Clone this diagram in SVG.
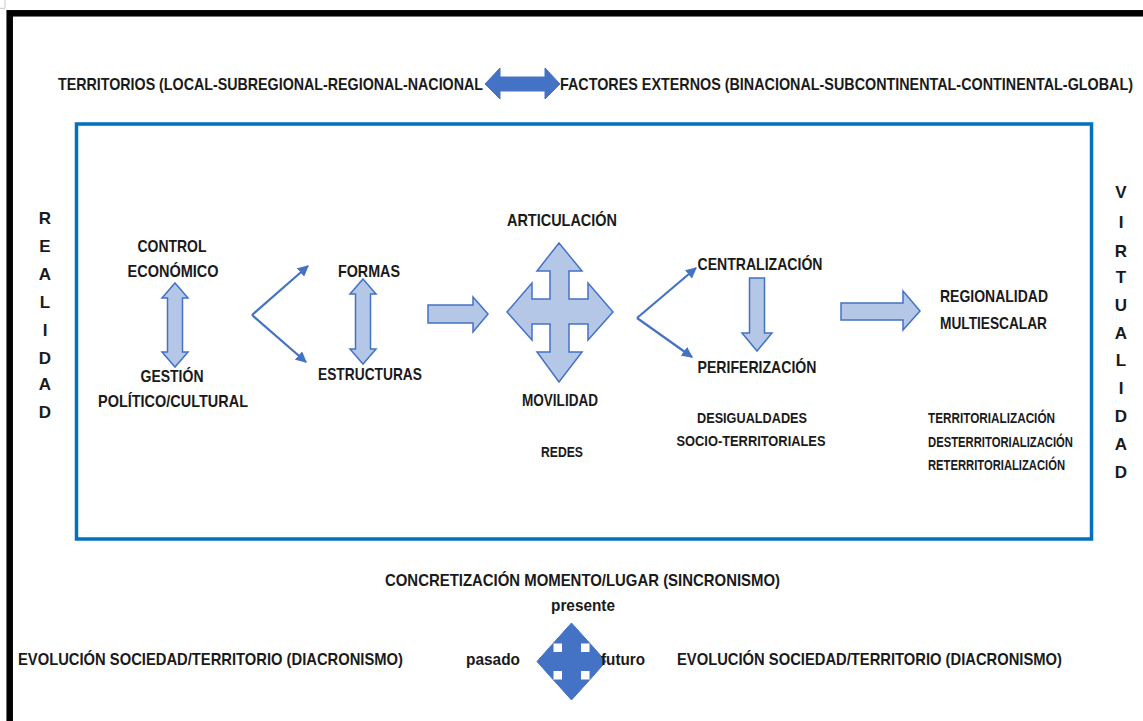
<svg xmlns="http://www.w3.org/2000/svg" width="1143" height="721" viewBox="0 0 1143 721">
<defs>
<style>
text{font-family:"Liberation Sans",Arial,sans-serif;font-weight:bold;fill:#1a1a1a;font-size:17px}
.s{font-size:15px}
.c{text-anchor:middle}
.blk{fill:#b4c7e7;stroke:#4472c4;stroke-width:1.5;stroke-linejoin:miter}
.dark{fill:#4472c4;stroke:#4472c4;stroke-width:1}
.con{fill:none;stroke:#4472c4;stroke-width:2.2}
</style>
<marker id="ah" viewBox="0 0 10 10" refX="9" refY="5" markerWidth="5" markerHeight="5" orient="auto" markerUnits="strokeWidth">
<path d="M0,0 L10,5 L0,10 z" fill="#4472c4"/>
</marker>
</defs>
<rect width="1143" height="721" fill="#ffffff"/>
<path d="M0 8.3 H5 V0" fill="none" stroke="#c8c8c8" stroke-width="1"/>
<rect id="frame" x="9.7" y="13.3" width="1200" height="800" fill="none" stroke="#000" stroke-width="6.5"/>
<rect id="box" x="76.5" y="124" width="1015" height="415" fill="none" stroke="#0070c0" stroke-width="3.5"/>

<g id="top">
<text x="58" y="90" textLength="425" lengthAdjust="spacingAndGlyphs">TERRITORIOS (LOCAL-SUBREGIONAL-REGIONAL-NACIONAL</text>
<path class="dark" d="M485,84 L500,68 L500,77 L545,77 L545,68 L560,84 L545,99 L545,91 L500,91 L500,99 Z"/>
<text x="560" y="90" textLength="573" lengthAdjust="spacingAndGlyphs">FACTORES EXTERNOS (BINACIONAL-SUBCONTINENTAL-CONTINENTAL-GLOBAL)</text>
</g>

<g id="realidad">
<text class="c" x="45" y="224">R</text>
<text class="c" x="45" y="252">E</text>
<text class="c" x="45" y="280">A</text>
<text class="c" x="45" y="308">L</text>
<text class="c" x="45" y="336">I</text>
<text class="c" x="45" y="364">D</text>
<text class="c" x="45" y="390">A</text>
<text class="c" x="45" y="418">D</text>
</g>

<g id="virtualidad">
<text class="c" x="1121" y="198">V</text>
<text class="c" x="1121" y="228">I</text>
<text class="c" x="1121" y="257">R</text>
<text class="c" x="1121" y="283">T</text>
<text class="c" x="1121" y="311">U</text>
<text class="c" x="1121" y="339">A</text>
<text class="c" x="1121" y="366">L</text>
<text class="c" x="1121" y="394">I</text>
<text class="c" x="1121" y="422">D</text>
<text class="c" x="1121" y="450">A</text>
<text class="c" x="1121" y="478">D</text>
</g>

<g id="control">
<text class="c" x="172" y="252" textLength="69" lengthAdjust="spacingAndGlyphs">CONTROL</text>
<text class="c" x="173" y="277" textLength="91" lengthAdjust="spacingAndGlyphs">ECONÓMICO</text>
</g>
<g id="arrow-control-gestion">
<path class="blk" d="M175,283 L188,298 L182.5,298 L182.5,352 L188,352 L175,367 L162,352 L167.5,352 L167.5,298 L162,298 Z"/>
</g>
<g id="gestion">
<text class="c" x="172" y="382" textLength="63" lengthAdjust="spacingAndGlyphs">GESTIÓN</text>
<text class="c" x="173" y="407" textLength="150" lengthAdjust="spacingAndGlyphs">POLÍTICO/CULTURAL</text>
</g>

<g id="formas">
<text class="c" x="369" y="277" textLength="62" lengthAdjust="spacingAndGlyphs">FORMAS</text>
</g>
<g id="arrow-formas-estructuras">
<path class="blk" d="M363,279 L376,294 L370.5,294 L370.5,349 L376,349 L363,364 L350,349 L355.5,349 L355.5,294 L350,294 Z"/>
</g>
<g id="estructuras">
<text class="c" x="370" y="380" textLength="104" lengthAdjust="spacingAndGlyphs">ESTRUCTURAS</text>
</g>

<g id="arrow-right-1">
<path class="blk" d="M428,305 L473,305 L473,297 L488,314 L473,332 L473,323 L428,323 Z"/>
</g>

<g id="articulacion">
<text class="c" x="562" y="226" textLength="110" lengthAdjust="spacingAndGlyphs">ARTICULACIÓN</text>
<path class="blk" d="M559,243 L582,271 L569,271 L569,299 L588,299 L588,283 L613,312 L588,340 L588,324 L569,324 L569,352 L582,352 L559,382 L537,352 L550,352 L550,324 L532,324 L532,340 L507,312 L532,283 L532,299 L550,299 L550,271 L537,271 Z"/>
<text class="c" x="560" y="406" textLength="76" lengthAdjust="spacingAndGlyphs">MOVILIDAD</text>
<text class="c s" x="562" y="457" textLength="42" lengthAdjust="spacingAndGlyphs">REDES</text>
</g>

<g id="centralizacion">
<text class="c" x="760" y="270" textLength="125" lengthAdjust="spacingAndGlyphs">CENTRALIZACIÓN</text>
<path class="blk" d="M749.5,278 L764.5,278 L764.5,333 L772,333 L757,351 L742,333 L749.5,333 Z"/>
<text class="c" x="757" y="373" textLength="119" lengthAdjust="spacingAndGlyphs">PERIFERIZACIÓN</text>
</g>

<g id="desigualdades">
<text class="c s" x="752" y="423" textLength="110" lengthAdjust="spacingAndGlyphs">DESIGUALDADES</text>
<text class="c s" x="751" y="446" textLength="149" lengthAdjust="spacingAndGlyphs">SOCIO-TERRITORIALES</text>
</g>

<g id="arrow-right-2">
<path class="blk" d="M841,303 L903,303 L903,291 L920,311 L903,330 L903,320 L841,320 Z"/>
</g>

<g id="regionalidad">
<text x="940" y="302" textLength="108" lengthAdjust="spacingAndGlyphs">REGIONALIDAD</text>
<text x="940" y="329" textLength="107" lengthAdjust="spacingAndGlyphs">MULTIESCALAR</text>
</g>

<g id="territorializacion">
<text class="s" x="928" y="423" textLength="127" lengthAdjust="spacingAndGlyphs">TERRITORIALIZACIÓN</text>
<text class="s" x="928" y="447" textLength="145" lengthAdjust="spacingAndGlyphs">DESTERRITORIALIZACIÓN</text>
<text class="s" x="928" y="470" textLength="137" lengthAdjust="spacingAndGlyphs">RETERRITORIALIZACIÓN</text>
</g>

<g id="connectors">
<path class="con" d="M252,315 L306,362" marker-end="url(#ah)"/>
<path class="con" d="M252,315 L308,266" marker-end="url(#ah)"/>
<path class="con" d="M637,318 L692,357" marker-end="url(#ah)"/>
<path class="con" d="M637,318 L696,268" marker-end="url(#ah)"/>
</g>

<g id="bottom">
<text x="385" y="586" textLength="395" lengthAdjust="spacingAndGlyphs">CONCRETIZACIÓN MOMENTO/LUGAR (SINCRONISMO)</text>
<text class="c" x="583" y="611" textLength="64" lengthAdjust="spacingAndGlyphs">presente</text>
<path class="dark" d="M571.5,623 L589.5,643 L580.5,643 L580.5,652.5 L590,652.5 L590,643.5 L606,661.5 L590,679.5 L590,670.5 L580.5,670.5 L580.5,680 L589.5,680 L571.5,700 L553.5,680 L562.5,680 L562.5,670.5 L553,670.5 L553,679.5 L537,661.5 L553,643.5 L553,652.5 L562.5,652.5 L562.5,643 L553.5,643 Z"/>
<text x="466" y="665" textLength="54" lengthAdjust="spacingAndGlyphs">pasado</text>
<text x="601" y="665" textLength="44" lengthAdjust="spacingAndGlyphs">futuro</text>
<text x="18" y="665" textLength="385" lengthAdjust="spacingAndGlyphs">EVOLUCIÓN SOCIEDAD/TERRITORIO (DIACRONISMO)</text>
<text x="677" y="665" textLength="385" lengthAdjust="spacingAndGlyphs">EVOLUCIÓN SOCIEDAD/TERRITORIO (DIACRONISMO)</text>
</g>
</svg>
